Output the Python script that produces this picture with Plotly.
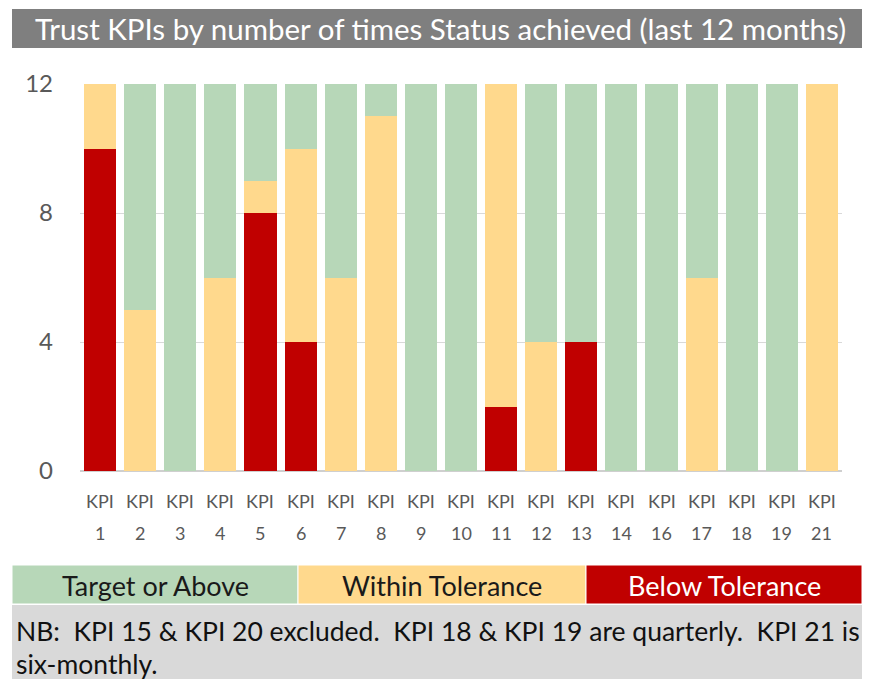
import plotly.graph_objects as go

categories = ["KPI 1", "KPI 2", "KPI 3", "KPI 4", "KPI 5", "KPI 6", "KPI 7", "KPI 8", "KPI 9",
              "KPI 10", "KPI 11", "KPI 12", "KPI 13", "KPI 14", "KPI 16", "KPI 17", "KPI 18",
              "KPI 19", "KPI 21"]
below_tolerance = [10, 0, 0, 0, 8, 4, 0, 0, 0, 0, 2, 0, 4, 0, 0, 0, 0, 0, 0]
within_tolerance = [2, 5, 0, 6, 1, 6, 6, 11, 0, 0, 10, 4, 0, 0, 0, 6, 0, 0, 12]
target_or_above = [0, 7, 12, 6, 3, 2, 6, 1, 12, 12, 0, 8, 8, 12, 12, 6, 12, 12, 0]
y_ticks = [0, 4, 8, 12]

GREEN = "#b7d7b8"
YELLOW = "#ffd98d"
RED = "#c00000"
FONT = "Lato, Open Sans, sans-serif"

fig = go.Figure()
for name, vals, col in [("Below Tolerance", below_tolerance, RED),
                        ("Within Tolerance", within_tolerance, YELLOW),
                        ("Target or Above", target_or_above, GREEN)]:
    fig.add_trace(go.Bar(x=categories, y=vals, name=name, marker=dict(color=col, line=dict(width=0))))

W, H = 869, 679
ml, mr, mt, mb = 80, 27, 84, 208
PW, PH = W - ml - mr, H - mt - mb

fig.update_layout(
    width=W, height=H, barmode="stack", bargap=0.2, showlegend=False,
    margin=dict(l=ml, r=mr, t=mt, b=mb),
    plot_bgcolor="white", paper_bgcolor="white",
    font=dict(family=FONT, color="#595959"),
    xaxis=dict(showticklabels=False, showgrid=False, zeroline=False, ticks=""),
    yaxis=dict(range=[0, 12], tickvals=y_ticks, showgrid=True, gridcolor="#d9d9d9", gridwidth=1,
               zeroline=True, zerolinecolor="#cfcfcf", tickfont=dict(size=24, color="#595959"),
               ticks="", ticklabelstandoff=26),
)

def px(x):
    return (x - ml) / PW

def py(y):
    return 1 - (y - mt) / PH

shapes = []
annotations = []
# title bar
shapes.append(dict(type="rect", xref="paper", yref="paper", x0=px(12), x1=px(862), y0=py(48), y1=py(9),
                   fillcolor="#7f7f7f", line=dict(width=0), layer="below"))
annotations.append(dict(xref="paper", yref="paper", x=px(440), y=py(29), text="Trust KPIs by number of times Status achieved (last 12 months)",
                        showarrow=False, font=dict(size=29.5, color="white", family=FONT), xanchor="center", yanchor="middle"))

# category labels (two rows)
for c in categories:
    top, num = c.split(" ")
    annotations.append(dict(xref="x", yref="paper", x=c, y=py(501), text=top, showarrow=False,
                            font=dict(size=18, color="#595959", family=FONT), xanchor="center", yanchor="middle"))
    annotations.append(dict(xref="x", yref="paper", x=c, y=py(533), text=num, showarrow=False,
                            font=dict(size=18, color="#595959", family=FONT), xanchor="center", yanchor="middle"))

# legend boxes
legend_items = [("Target or Above", GREEN, "#1a1a1a", 12, 298),
                ("Within Tolerance", YELLOW, "#1a1a1a", 298, 586),
                ("Below Tolerance", RED, "white", 586, 862)]
for text, col, tcol, x0, x1 in legend_items:
    shapes.append(dict(type="rect", xref="paper", yref="paper", x0=px(x0), x1=px(x1), y0=py(604), y1=py(565),
                       fillcolor=col, line=dict(color="white", width=1)))
    annotations.append(dict(xref="paper", yref="paper", x=px((x0 + x1) / 2), y=py(585), text=text, showarrow=False,
                            font=dict(size=27, color=tcol, family=FONT), xanchor="center", yanchor="middle"))

# note box
shapes.append(dict(type="rect", xref="paper", yref="paper", x0=px(12), x1=px(862), y0=py(680), y1=py(605),
                   fillcolor="#d9d9d9", line=dict(width=0)))
annotations.append(dict(xref="paper", yref="paper", x=px(14), y=py(631),
                        text="NB:  KPI 15 & KPI 20 excluded.  KPI 18 & KPI 19 are quarterly.  KPI 21 is",
                        showarrow=False, font=dict(size=26.5, color="#111111", family=FONT), xanchor="left", yanchor="middle"))
annotations.append(dict(xref="paper", yref="paper", x=px(14), y=py(664), text="six-monthly.",
                        showarrow=False, font=dict(size=26.5, color="#111111", family=FONT), xanchor="left", yanchor="middle"))

fig.update_layout(shapes=shapes, annotations=annotations)
fig.write_html("out.html", config={"displayModeBar": False},
               post_script="document.body.style.margin='0';document.body.style.overflow='hidden';")
